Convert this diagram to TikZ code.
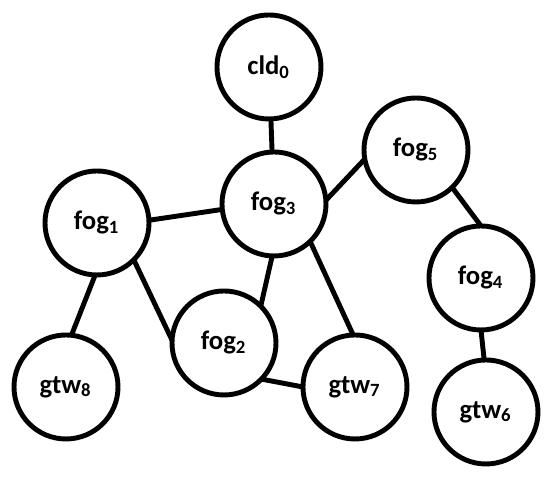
\documentclass[tikz,border=0pt]{standalone}
\usepackage{fontspec}
\setmainfont{Carlito}
\usepackage{tikz}
\usetikzlibrary{positioning}

\begin{document}
\begin{tikzpicture}[
  font=\fontsize{7.6}{9}\selectfont\bfseries,
  unit/.style={draw, circle, line width=1.4pt, minimum size=1.04cm, inner sep=0pt, outer sep=0pt},
  link/.style={line width=1.4pt}
]
\useasboundingbox (0,0) rectangle (5.53,4.80);
\node[unit] (cld0) at (2.69,4.13) {cld\textsubscript{0}};
\node[unit] (fog3) at (2.74,2.76) {fog\textsubscript{3}};
\node[unit] (fog5) at (4.16,3.30) {fog\textsubscript{5}};
\node[unit] (fog1) at (0.97,2.57) {fog\textsubscript{1}};
\node[unit] (fog4) at (4.81,2.02) {fog\textsubscript{4}};
\node[unit] (fog2) at (2.24,1.37) {fog\textsubscript{2}};
\node[unit] (gtw7) at (3.55,0.93) {gtw\textsubscript{7}};
\node[unit] (gtw8) at (0.66,0.93) {gtw\textsubscript{8}};
\node[unit] (gtw6) at (4.86,0.68) {gtw\textsubscript{6}};
\draw[link] (cld0) -- (fog3);
\draw[link] (fog1.3) -- (fog3.186);
\draw[link] (fog3.4) -- (fog5.190);
\draw[link] (fog3.268) -- (fog2.45);
\draw[link] (fog3.314) -- (gtw7.92);
\draw[link] (fog1.-45) -- (fog2.177);
\draw[link] (fog1.268) -- (gtw8.84);
\draw[link] (fog2.-44) -- (gtw7.180);
\draw[link] (fog5.-46) -- (fog4.90);
\draw[link] (fog4.270) -- (gtw6.92);
\end{tikzpicture}
\end{document}
